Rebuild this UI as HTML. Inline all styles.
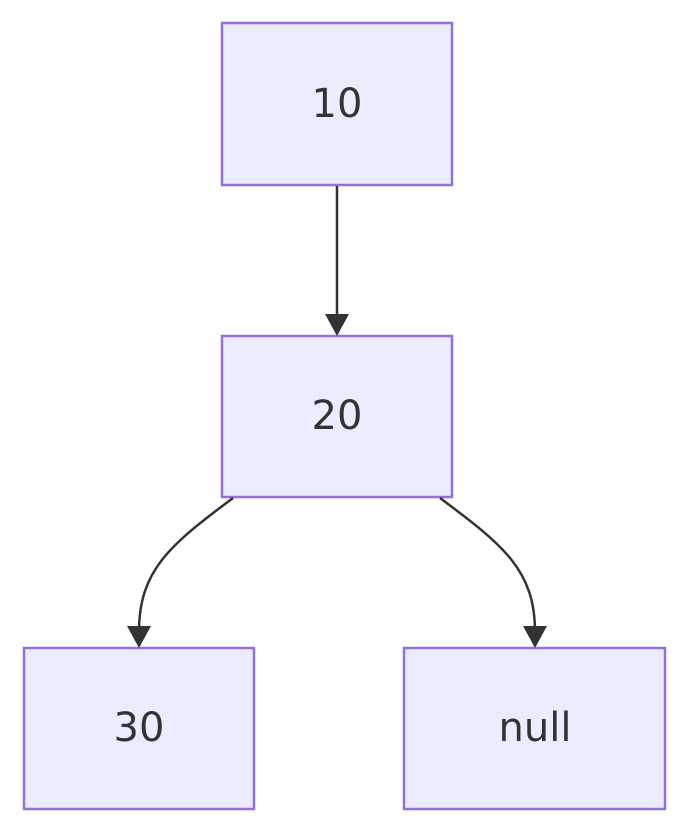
<!DOCTYPE html>
<html><head><meta charset="utf-8"><style>
html,body{margin:0;padding:0;background:#fff;width:689px;height:834px;overflow:hidden}
</style></head><body>
<svg width="689" height="834" xmlns="http://www.w3.org/2000/svg">
<defs><marker id="a" viewBox="0 0 10 10" refX="9" refY="5" markerWidth="6" markerHeight="6" orient="auto" markerUnits="userSpaceOnUse"></marker>
</defs>
<g fill="#ECECFF" stroke="#9370DB" stroke-width="2.5">
<rect x="222" y="23" width="230" height="162"/>
<rect x="222" y="336" width="230" height="161"/>
<rect x="24" y="648" width="230" height="161"/>
<rect x="404" y="648" width="261" height="161"/>
</g>
<g stroke="#333" stroke-width="2.5" fill="none">
<path d="M337 186 L337 320"/>
<path d="M233 498 C170 545 139 570 139 632"/>
<path d="M440 498 C503 545 535 570 535 632"/>
</g>
<g fill="#333">
<polygon points="325,314 349,314 337,336"/>
<polygon points="127,626 151,626 139,648"/>
<polygon points="523,626 547,626 535,648"/>
</g>
<g font-family="'DejaVu Sans','Liberation Sans',sans-serif" font-size="40" fill="#333" text-anchor="middle" dominant-baseline="central">
<text x="337" y="104">10</text>
<text x="337" y="416">20</text>
<text x="139" y="728">30</text>
<text x="535" y="728">null</text>
</g>
</svg>
</body></html>
